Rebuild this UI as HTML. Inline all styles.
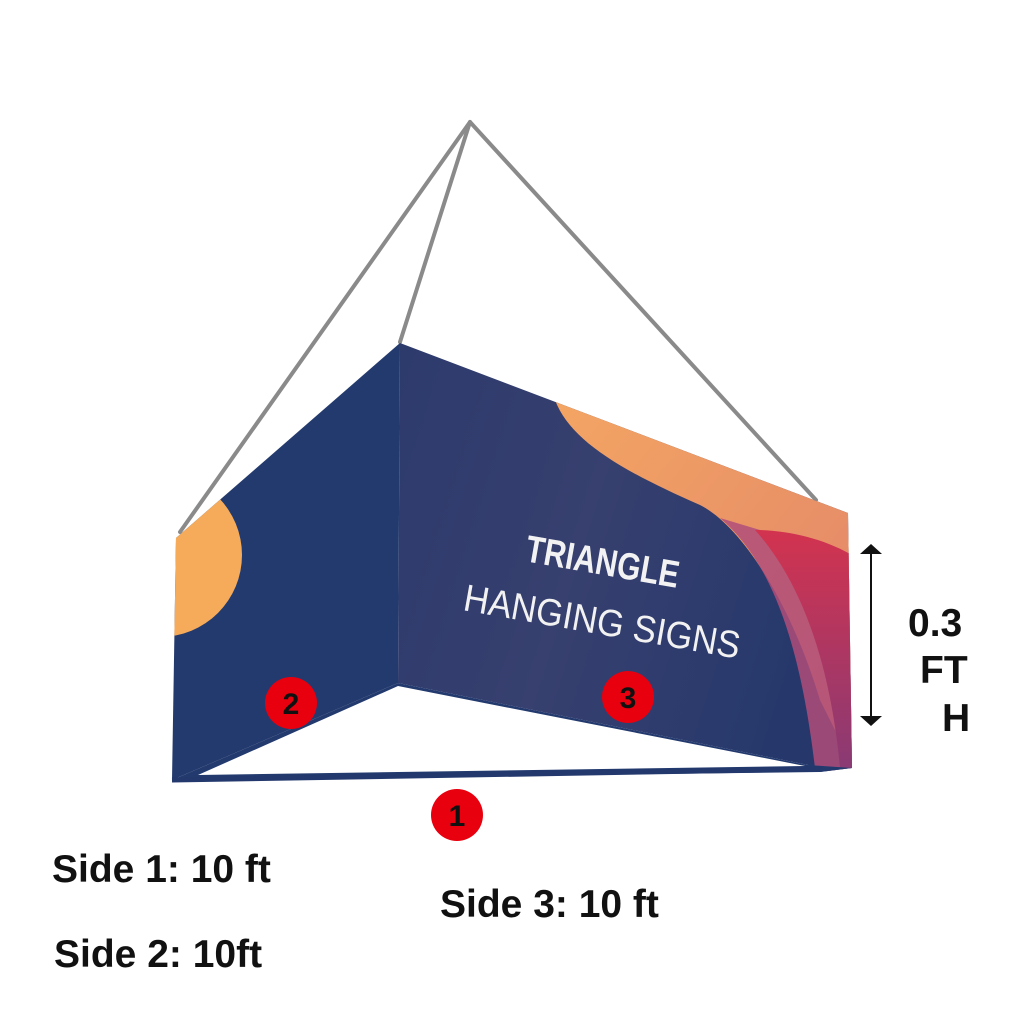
<!DOCTYPE html>
<html><head><meta charset="utf-8"><style>
html,body{margin:0;padding:0;background:#fff;width:1024px;height:1024px;overflow:hidden}
svg{display:block}
</style></head><body>
<svg width="1024" height="1024" viewBox="0 0 1024 1024" xmlns="http://www.w3.org/2000/svg">
<defs>
<clipPath id="L"><polygon points="176,538 400,343 398,683 172,780"/></clipPath>
<clipPath id="R"><polygon points="400,343 848,513 852,768 820,772 808,765 398,683"/></clipPath>
<linearGradient id="rg" x1="0" y1="0" x2="1" y2="0.3">
<stop offset="0" stop-color="#2c3a6c"/><stop offset="0.5" stop-color="#37406f"/><stop offset="1" stop-color="#26386b"/></linearGradient>
<linearGradient id="og" x1="0" y1="0" x2="1" y2="1">
<stop offset="0" stop-color="#f4a563"/><stop offset="1" stop-color="#e0826a"/></linearGradient>
<linearGradient id="pg" x1="0" y1="0" x2="0" y2="1">
<stop offset="0" stop-color="#d2334f"/><stop offset="1" stop-color="#8a3a74"/></linearGradient>
</defs>
<g stroke="#8a8a8a" stroke-width="4" fill="none" stroke-linecap="round">
<line x1="470" y1="122" x2="180" y2="532"/>
<line x1="470" y1="122" x2="400" y2="342"/>
<line x1="470" y1="122" x2="816" y2="500"/>
</g>
<g clip-path="url(#L)">
<rect x="150" y="330" width="260" height="460" fill="#233a6e"/>
<circle cx="160" cy="555" r="82" fill="#f6ab5a"/>
</g>
<g clip-path="url(#R)">
<rect x="390" y="330" width="470" height="450" fill="url(#rg)"/>
<path d="M555,400 C570,440 620,470 700,505 C740,525 790,600 820,700 L860,780 L860,500 Z" fill="url(#og)"/>
<path d="M720,518 C770,560 800,640 815,768 L860,780 L860,700 C840,640 800,570 760,530 Z" fill="#b04d7a" opacity="0.85"/>
<path d="M755,530 C800,580 830,660 840,768 L860,768 L860,560 C830,540 790,530 755,530 Z" fill="url(#pg)"/>
</g>
<polygon points="172,780 398,683 808,765 852,768 820,772" fill="#233a6e"/>
<polygon points="198,775 398,686 805,766" fill="#fff"/>
<line x1="172" y1="780" x2="822" y2="769" stroke="#23386c" stroke-width="5"/>
<text x="524" y="561" transform="rotate(10 524 561)" font-family="Liberation Sans, sans-serif" font-weight="bold" font-size="38" fill="#f2f2f2" textLength="155" lengthAdjust="spacingAndGlyphs">TRIANGLE</text>
<text x="462" y="610" transform="rotate(10 462 610)" font-family="Liberation Sans, sans-serif" font-size="38" fill="#f2f2f2" textLength="280" lengthAdjust="spacingAndGlyphs">HANGING SIGNS</text>
<g font-family="Liberation Sans, sans-serif" font-weight="bold" font-size="30" fill="#111" text-anchor="middle">
<circle cx="291" cy="703" r="26" fill="#e8000f"/><text x="291" y="714">2</text>
<circle cx="628" cy="697" r="26" fill="#e8000f"/><text x="628" y="708">3</text>
<circle cx="457" cy="815" r="26" fill="#e8000f"/><text x="457" y="826">1</text>
</g>
<line x1="871" y1="552" x2="871" y2="718" stroke="#111" stroke-width="2"/>
<polygon points="871,544 860,554 882,554" fill="#111"/>
<polygon points="871,726 860,716 882,716" fill="#111"/>
<g font-family="Liberation Sans, sans-serif" font-weight="bold" font-size="39" fill="#111">
<text x="908" y="636">0.3</text>
<text x="920" y="683">FT</text>
<text x="942" y="731">H</text>
<text x="52" y="882">Side 1: 10 ft</text>
<text x="54" y="967">Side 2: 10ft</text>
<text x="440" y="917">Side 3: 10 ft</text>
</g>
</svg>
</body></html>
